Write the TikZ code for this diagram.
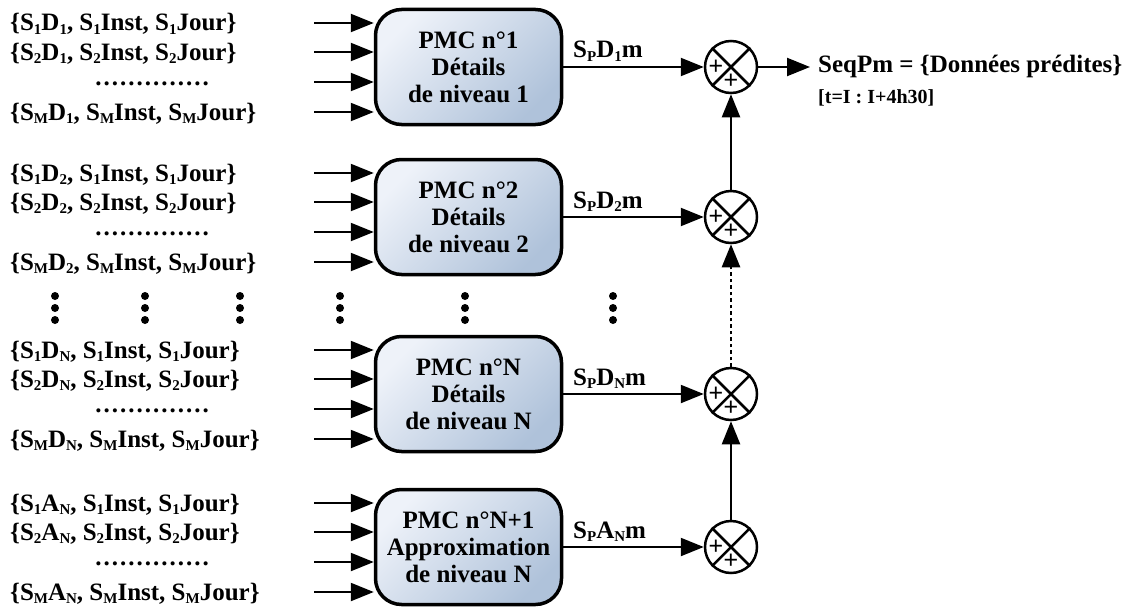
\documentclass[tikz,border=0pt]{standalone}
\usepackage{fontspec}
\setmainfont{Liberation Serif}
\newfontfamily\plusfont{Liberation Sans}
\usetikzlibrary{arrows.meta,shapes.geometric}
\definecolor{boxlight}{HTML}{EEF2F9}
\definecolor{boxdark}{HTML}{AFC2DA}
\newcommand\sbx[1]{\raisebox{-3.5pt}{\fontsize{15}{15}\selectfont #1}}
\newcommand\dotline{.\kern2pt.\kern2pt.\kern2pt.\kern2pt.\kern2pt.\kern2pt.\kern2pt.\kern2pt.\kern2pt.\kern2pt.\kern2pt.\kern2pt.\kern2pt.}
\tikzset{
  pmc/.style={draw, line width=3.5pt, rounded corners=26pt, minimum width=186pt,
    minimum height=115pt, top color=boxlight, bottom color=boxdark, shading angle=45,
    align=center, font=\fontsize{25}{27}\selectfont\bfseries, inner sep=0pt},
  sumnode/.style={draw, circle, line width=2.5pt, minimum size=52pt, inner sep=0pt},
  arr/.style={line width=2.2pt, -{Triangle[length=23pt,width=18pt]}},
  lab/.style={anchor=base west, font=\fontsize{25}{25}\selectfont\bfseries, inner sep=0pt},
  plussign/.style={font=\plusfont\fontsize{25}{25}\selectfont, inner sep=0pt},
  vdot/.style={fill=black}
}
\begin{document}
\begin{tikzpicture}[x=1pt,y=-1pt]
\useasboundingbox (0,0) rectangle (1131,610);
\foreach \g/\cy/\d/\t in {
  1/67/{D\sbx{1}}/{PMC n°1\\Détails\\de niveau 1},
  2/217/{D\sbx{2}}/{PMC n°2\\Détails\\de niveau 2},
  N/394/{D\sbx{N}}/{PMC n°N\\Détails\\de niveau N},
  A/547/{A\sbx{N}}/{PMC n°N+1\\Approximation\\de niveau N}}{
  \node[pmc] (box\g) at (468.5,\cy) {\t};
  \node[sumnode] (sum\g) at (731,\cy) {};
  \draw[line width=2.5pt] (sum\g.north west) -- (sum\g.south east)
                          (sum\g.north east) -- (sum\g.south west);
  \node[plussign] (pl\g) at ([xshift=-15pt]sum\g.center) {+};
  \node[plussign] (pb\g) at ([yshift=-14pt]sum\g.center) {+};
  \coordinate (in\g-1) at (314,{\cy-44});
  \coordinate (in\g-2) at (314,{\cy-15});
  \coordinate (in\g-3) at (314,{\cy+15});
  \coordinate (in\g-4) at (314,{\cy+45});
  \foreach \k in {1,2,3,4}{
    \draw[arr] (in\g-\k) -- (in\g-\k -| box\g.west);
  }
  \node[lab] (l\g-1) at (10,{\cy-44+8}) {\{S\sbx{1}\d, S\sbx{1}Inst, S\sbx{1}Jour\}};
  \node[lab] (l\g-2) at (10,{\cy-15+8}) {\{S\sbx{2}\d, S\sbx{2}Inst, S\sbx{2}Jour\}};
  \node[lab, anchor=base] (l\g-3) at (152,{\cy+15+3}) {\dotline};
  \node[lab] (l\g-4) at (10,{\cy+45+8}) {\{S\sbx{M}\d, S\sbx{M}Inst, S\sbx{M}Jour\}};
  \draw[arr] (box\g.east) -- (sum\g.west);
  \node[lab] (o\g) at (573,{\cy-9}) {S\sbx{P}\d m};
}
\draw[arr] (sum2.north) -- (sum1.south);
\draw[arr, line width=2.6pt, dash pattern=on 3.5pt off 3pt] (sumN.north) -- (sum2.south);
\draw[arr] (sumA.north) -- (sumN.south);
\coordinate (outend) at (810,67);
\draw[arr] (sum1.east) -- (outend);
\node[lab] (seq) at (818,72) {SeqPm = \{Données prédites\}};
\node[lab, font=\fontsize{20}{20}\selectfont\bfseries] (tint) at (818,103) {[t=I : I+4h30]};
\foreach \x in {55,145,240,340,465,613}{
  \foreach \y in {296,308,320}{
    \fill[vdot] (\x,\y) circle (4pt);
  }
}
\end{tikzpicture}
\end{document}
